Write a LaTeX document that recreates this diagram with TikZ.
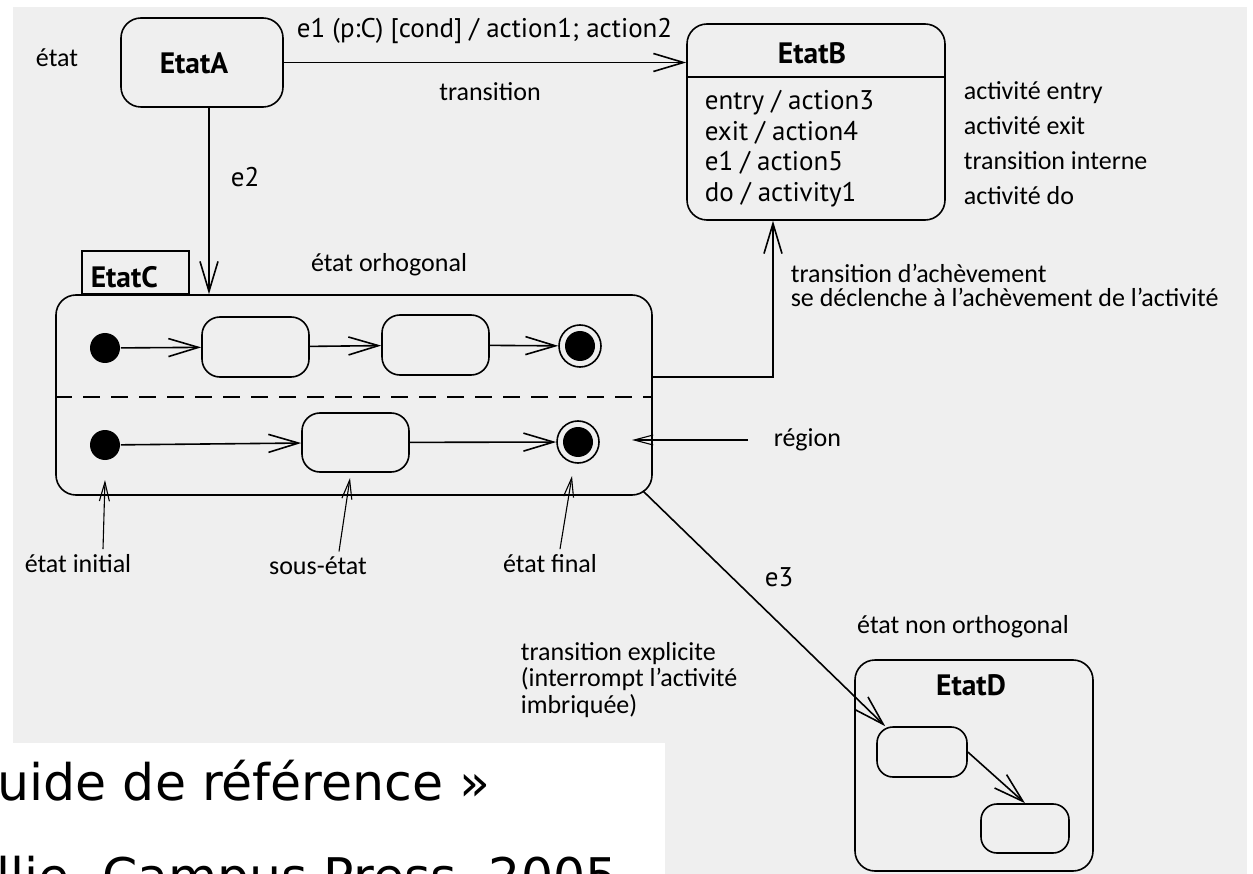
\documentclass[tikz,border=0pt]{standalone}
\usepackage{fontspec}
\setmainfont{PT Sans}
\newfontfamily\annfont{Carlito}
\newfontfamily\slidefont{DejaVu Sans}
\usetikzlibrary{arrows.meta}
\definecolor{paper}{HTML}{EFEFEF}

\begin{document}
\begin{tikzpicture}[x=1pt,y=-1pt,line width=1.6pt,
  trans/.style={draw,-{Straight Barb[length=30pt,width=18pt]}},
  pointer/.style={draw,line width=1.1pt,-{Straight Barb[length=19pt,width=10pt]}},
  state/.style={draw,rounded corners=20pt,inner sep=0pt},
  sub/.style={draw,rounded corners=18pt,inner sep=0pt,minimum width=107pt,minimum height=60pt},
  init/.style={circle,fill=black,inner sep=0pt,minimum size=30pt},
  final/.style={circle,draw,inner sep=0pt,minimum size=42pt,
    path picture={\fill[black] (path picture bounding box.center) circle[radius=15pt];}},
  ann/.style={font=\annfont\fontsize{26}{26.5}\selectfont,inner sep=0pt},
  lbl/.style={font=\fontsize{27}{31}\selectfont,inner sep=0pt},
  ttl/.style={font=\bfseries\fontsize{29.5}{32}\selectfont,inner sep=0pt},
  slide/.style={font=\slidefont\fontsize{50.5}{60}\selectfont,inner sep=0pt}]

\useasboundingbox (0,0) rectangle (1253,874);
\fill[white] (0,0) rectangle (1253,874);
\fill[paper] (13,7) rectangle (1247,874);

% EtatA and its transition to EtatB
\node[ann] (lEtat) at (57,58) {état};
\node[state,minimum width=162pt,minimum height=89pt] (A) at (202,62.5) {};
\node[ttl] (At) at (194,63) {EtatA};

\node[state,minimum width=258pt,minimum height=196pt] (B) at (816,122) {};
\node[ttl] (Bt) at (812,53) {EtatB};
\draw (B.west |- 0,77) -- (B.east |- 0,77);
\node[lbl,anchor=base west] (B1) at (704,110) {entry / action3};
\node[lbl,anchor=base west] (B2) at (704,141) {exit / action4};
\node[lbl,anchor=base west] (B3) at (704,171) {e1 / action5};
\node[lbl,anchor=base west] (B4) at (704,202) {do / activity1};
\node[ann,anchor=base west] (nB1) at (963,100) {activité entry};
\node[ann,anchor=base west] (nB2) at (963,135) {activité exit};
\node[ann,anchor=base west] (nB3) at (963,170) {transition interne};
\node[ann,anchor=base west] (nB4) at (963,205) {activité do};

\draw[trans] (A.east) -- (A.east -| B.west);
\node[lbl,anchor=base west] (le1) at (296,38) {e1 (p:C) [cond] / action1; action2};
\node[ann] (ltrans) at (490,92) {transition};

% EtatC, orthogonal state with two regions
\node[draw,inner sep=0pt,minimum width=107pt,minimum height=43pt,anchor=south west] (Ctab) at (81,295) {};
\node[ttl,anchor=west] (Ct) at ([xshift=9pt,yshift=-4pt]Ctab.west) {EtatC};
\node[state,minimum width=596pt,minimum height=200pt] (C) at (354,395) {};
\draw[dash pattern=on 17pt off 11pt] (C.west |- 0,397) -- (C.east |- 0,397);

\draw[trans] ([xshift=7pt]A.south) -- ([xshift=7pt]A.south |- C.north);
\node[lbl] (le2) at (245,177) {e2};
\node[ann] (lorth) at (389,265) {état orhogonal};

\node[init] (I1) at (105,348) {};
\node[sub] (S1) at (255.5,347) {};
\node[sub] (S2) at (435.5,345) {};
\node[final] (F1) at (580,346) {};
\draw[trans] (I1) -- (S1);
\draw[trans] (S1) -- (S2);
\draw[trans] (S2) -- (F1);

\node[init] (I2) at (105,445) {};
\node[sub,minimum height=59pt] (S3) at (355.5,442.5) {};
\node[final] (F2) at (578,442) {};
\draw[trans] (I2) -- (S3);
\draw[trans] (S3) -- (F2);

% completion transition
\draw[trans] ([yshift=18pt]C.east) -| ([xshift=-43pt]B.south);
\node[ann,anchor=base west] (lc1) at (790,283) {transition d’achèvement};
\node[ann,anchor=base west] (lc2) at (790,307) {se déclenche à l’achèvement de l’activité};

% pointers to the parts of EtatC
\node[ann,anchor=west] (lreg) at (773,440) {région};
\coordinate (regtip) at (632,440);
\draw[pointer] ([xshift=-25pt]lreg.west) -- (regtip);

\node[ann,anchor=base] (linit) at (78,572) {état initial};
\coordinate (tinit) at (105,480);
\draw[pointer] ([xshift=25pt,yshift=4pt]linit.north) -- (tinit);
\node[ann,anchor=base] (lsous) at (318,574) {sous-état};
\coordinate (tsous) at (350,478);
\draw[pointer] ([xshift=21pt,yshift=4pt]lsous.north) -- (tsous);
\node[ann,anchor=base] (lfin) at (550,572) {état final};
\coordinate (tfin) at (572,476);
\draw[pointer] ([xshift=10pt,yshift=4pt]lfin.north) -- (tfin);

% EtatD, non orthogonal state
\node[state,minimum width=238pt,minimum height=211pt] (D) at (974,765.5) {};
\node[ttl] (Dt) at (971,685) {EtatD};
\node[sub,minimum width=90pt,minimum height=50pt,rounded corners=16pt] (D1) at (922,752) {};
\node[sub,minimum width=88pt,minimum height=49pt,rounded corners=16pt] (D2) at (1025,828.5) {};
\draw[trans] (D1.east) -- (D2.north);
\draw[trans] ([xshift=-10pt,yshift=5pt]C.south east) -- ([xshift=9pt]D1.north west);
\node[lbl] (le3) at (779,577) {e3};
\node[ann] (lnon) at (963,627) {état non orthogonal};
\node[ann,anchor=base west,align=left] (lexpl) at (520,713) {transition explicite\\(interrompt l’activité\\imbriquée)};

% citation band
\fill[white] (0,743) rectangle (665,874);
\begin{scope}
\clip (0,743) rectangle (665,874);
\node[slide,anchor=base west] (cite1) at (-3,800) {uide de référence »};
\node[slide,anchor=base west] (cite2) at (-4,894) {llie, Campus Press, 2005};
\end{scope}
\end{tikzpicture}
\end{document}
